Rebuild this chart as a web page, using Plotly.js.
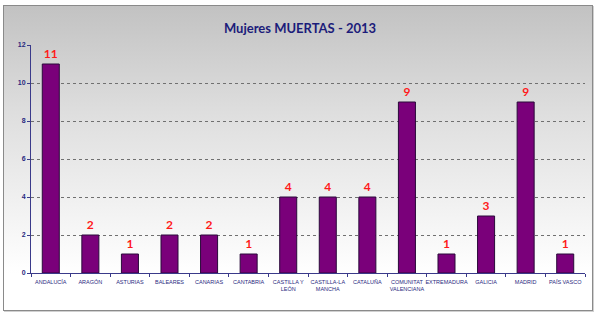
<!DOCTYPE html>
<html><head><meta charset="utf-8">
<script src="https://cdn.plot.ly/plotly-3.0.1.min.js"></script>
<style>
html,body{margin:0;padding:0;background:#fff;}
#frame{position:absolute;left:3px;top:5px;width:588px;height:304px;border:1px solid #8a8a8a;box-shadow:1px 1px 0 #d0d0d0;background:linear-gradient(to bottom,#c2c2c2 0%,#dedede 35%,#f4f4f4 70%,#ffffff 88%,#ffffff 100%);}
#chart{position:absolute;left:0;top:0;width:600px;height:324px;}
</style></head>
<body>
<div id="frame"></div>
<div id="chart"></div>
<script>
const categories = ["ANDALUCÍA","ARAGÓN","ASTURIAS","BALEARES","CANARIAS","CANTABRIA","CASTILLA Y<br>LEÓN","CASTILLA-LA<br>MANCHA","CATALUÑA","COMUNITAT<br>VALENCIANA","EXTREMADURA","GALICIA","MADRID","PAÍS VASCO"];
const values = [11,2,1,2,2,1,4,4,4,9,1,3,9,1];
const yTicks = [0,2,4,6,8,10,12];

const trace = {
  type:'bar', x:categories, y:values,
  text: values.map(String), textposition:'outside', cliponaxis:false,
  textfont:{family:'Lato, Arial, sans-serif', size:12, color:'#ff1a1a', weight:'bold'},
  marker:{color:'#7a007a', line:{color:'#2a0a3a', width:1}},
  hoverinfo:'none'
};
const layout = {
  width:600, height:324,
  margin:{l:31, r:15, t:45, b:51, pad:0},
  paper_bgcolor:'rgba(0,0,0,0)', plot_bgcolor:'rgba(0,0,0,0)',
  bargap:0.57,
  showlegend:false,
  title:{text:'<b>Mujeres MUERTAS - 2013</b>', x:0.5, xanchor:'center', y:0.913, yanchor:'middle',
    font:{family:'Lato, Arial, sans-serif', size:13, color:'#1c1c7a'}},
  xaxis:{type:'category', showline:true, linecolor:'#3a3a8a', linewidth:1,
    ticks:'outside', tickson:'boundaries', ticklen:3, tickcolor:'#3a3a8a',
    ticklabelstandoff:3,
    tickfont:{family:'Arial, sans-serif', size:5.5, color:'#2a2a80'}, tickangle:0,
    showgrid:false, fixedrange:true},
  yaxis:{range:[0,12], tickvals:yTicks, showline:true, linecolor:'#3a3a8a', linewidth:1,
    ticks:'outside', ticklen:3, tickcolor:'#3a3a8a',
    tickfont:{family:'Arial, sans-serif', size:7, color:'#2a2a80', weight:'bold'},
    showgrid:true, gridcolor:'#707070', griddash:'dot', gridwidth:1,
    zeroline:false, fixedrange:true}
};
Plotly.newPlot('chart',[trace],layout,{displayModeBar:false, staticPlot:true});
</script>
</body></html>
